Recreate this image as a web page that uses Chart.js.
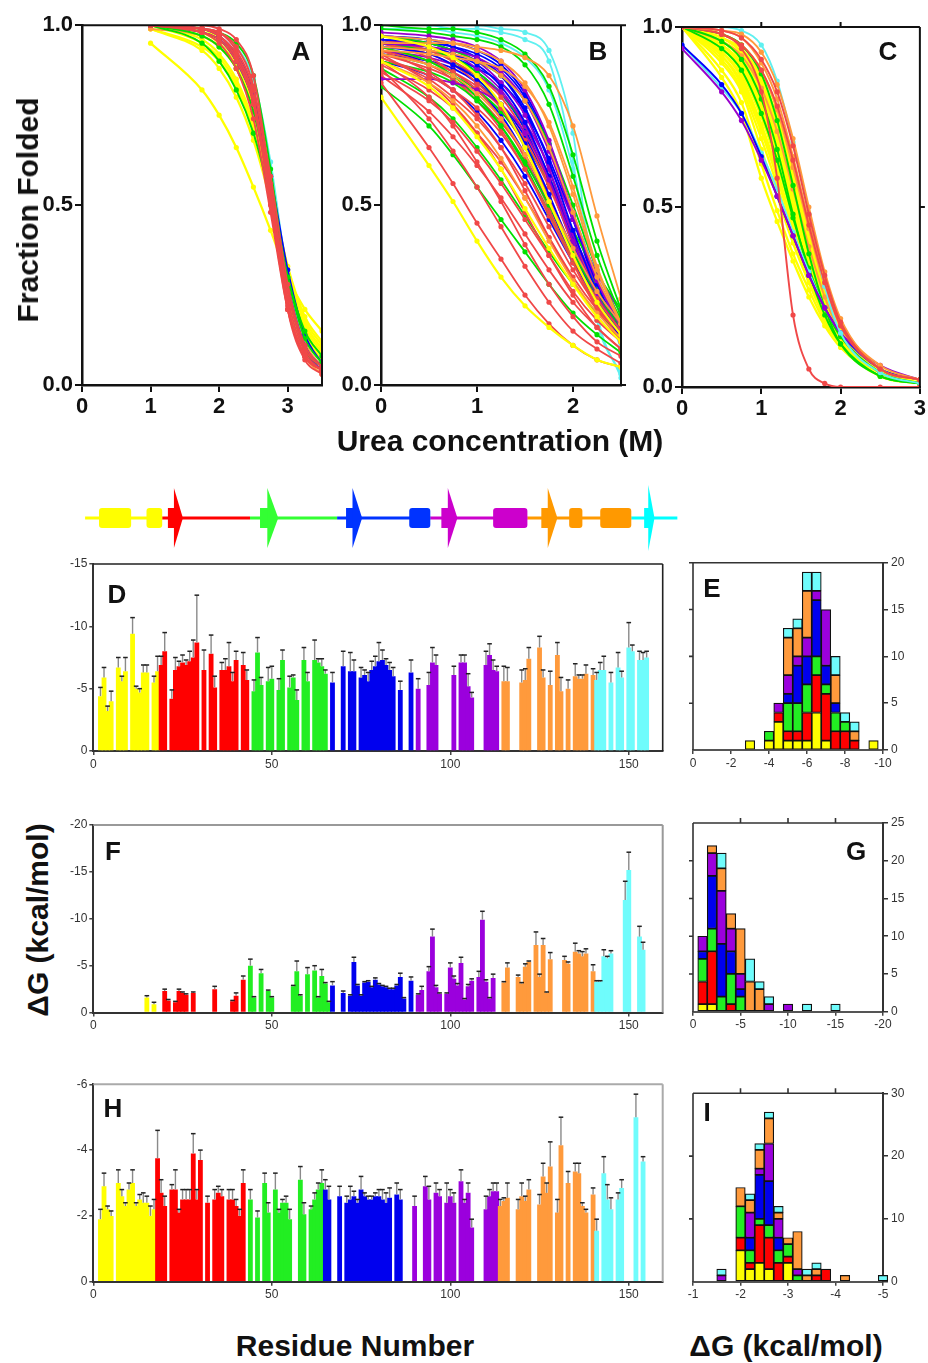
<!DOCTYPE html>
<html>
<head>
<meta charset="utf-8">
<script src="https://cdn.jsdelivr.net/npm/chart.js@4.4.1/dist/chart.umd.min.js"></script>
<style>
body { margin: 0; background: #fff; width: 928px; height: 1363px; position: relative; overflow: hidden; font-family: Arial, "Liberation Sans", sans-serif; }
canvas { position: absolute; }
.lbl { position: absolute; font-weight: bold; font-size: 30px; line-height: 1; color: #111; white-space: nowrap; transform: translate(-50%, -50%); }
.vert { transform: translate(-50%, -50%) rotate(-90deg); }
.pl { position: absolute; font-weight: bold; font-size: 26px; line-height: 1; color: #111; transform: translate(-50%, -50%); }
</style>
</head>
<body>
<canvas id="cA" width="330" height="425" style="left:0;top:10px"></canvas>
<canvas id="cB" width="300" height="425" style="left:330px;top:10px"></canvas>
<canvas id="cC" width="298" height="427" style="left:630px;top:10px"></canvas>
<canvas id="cS" width="640" height="90" style="left:60px;top:470px"></canvas>
<canvas id="cD" width="610" height="232" style="left:60px;top:548px"></canvas>
<canvas id="cE" width="258" height="232" style="left:670px;top:548px"></canvas>
<canvas id="cF" width="610" height="232" style="left:60px;top:808px"></canvas>
<canvas id="cG" width="258" height="232" style="left:670px;top:808px"></canvas>
<canvas id="cH" width="610" height="240" style="left:60px;top:1068px"></canvas>
<canvas id="cI" width="258" height="232" style="left:670px;top:1078px"></canvas>

<div class="lbl vert" style="left:28px;top:210px">Fraction Folded</div>
<div class="lbl" style="left:500px;top:441px">Urea concentration (M)</div>
<div class="lbl vert" style="left:38px;top:920px">ΔG (kcal/mol)</div>
<div class="lbl" style="left:355px;top:1346px">Residue Number</div>
<div class="lbl" style="left:786px;top:1346px">ΔG (kcal/mol)</div>

<div class="pl" style="left:301px;top:51px">A</div>
<div class="pl" style="left:598px;top:51px">B</div>
<div class="pl" style="left:888px;top:51px">C</div>
<div class="pl" style="left:117px;top:594px">D</div>
<div class="pl" style="left:712px;top:588px">E</div>
<div class="pl" style="left:113px;top:851px">F</div>
<div class="pl" style="left:856px;top:851px">G</div>
<div class="pl" style="left:113px;top:1108px">H</div>
<div class="pl" style="left:707px;top:1112px">I</div>

<script>
// ---- urea melts: fraction folded at each measured urea concentration ----
var ureaA = [1, 1.75, 2, 2.25, 2.5, 2.75, 3, 3.25, 3.5];
var colsA = ['r','r','r','r','r','r','r','g','g','g','b','b','p','c','o','o','y','y','y','y','y','y','y','y','y'];
var foldA = [
  [1.00,0.99,0.97,0.92,0.80,0.52,0.22,0.08,0.04],
  [1.00,0.99,0.98,0.94,0.83,0.55,0.24,0.09,0.04],
  [1.00,0.98,0.96,0.90,0.78,0.50,0.21,0.08,0.04],
  [1.00,0.99,0.97,0.91,0.79,0.54,0.26,0.10,0.05],
  [1.00,0.98,0.95,0.88,0.74,0.48,0.21,0.08,0.04],
  [1.00,0.99,0.98,0.93,0.82,0.58,0.28,0.11,0.05],
  [1.00,1.00,0.99,0.96,0.86,0.56,0.21,0.07,0.03],
  [1.00,0.99,0.98,0.95,0.86,0.60,0.27,0.10,0.05],
  [1.00,0.95,0.90,0.82,0.70,0.52,0.30,0.15,0.08],
  [1.00,0.97,0.94,0.88,0.76,0.55,0.30,0.13,0.06],
  [1.00,0.99,0.97,0.92,0.81,0.57,0.28,0.11,0.05],
  [1.00,0.98,0.96,0.90,0.79,0.58,0.32,0.14,0.06],
  [1.00,0.99,0.97,0.91,0.80,0.56,0.27,0.10,0.04],
  [1.00,0.99,0.98,0.94,0.85,0.62,0.30,0.11,0.05],
  [1.00,0.99,0.97,0.91,0.79,0.53,0.23,0.08,0.03],
  [0.99,0.97,0.94,0.88,0.76,0.54,0.29,0.12,0.05],
  [0.95,0.82,0.75,0.66,0.55,0.43,0.30,0.21,0.15],
  [0.99,0.93,0.88,0.80,0.68,0.51,0.30,0.17,0.10],
  [1.00,0.96,0.92,0.85,0.73,0.54,0.30,0.16,0.09],
  [1.00,0.97,0.94,0.88,0.77,0.56,0.30,0.15,0.08],
  [1.00,0.98,0.95,0.89,0.78,0.57,0.32,0.17,0.10],
  [1.00,0.95,0.91,0.84,0.72,0.54,0.33,0.19,0.12],
  [1.00,0.98,0.96,0.91,0.80,0.57,0.29,0.14,0.07],
  [0.99,0.94,0.90,0.83,0.71,0.52,0.31,0.18,0.11],
  [1.00,0.99,0.96,0.90,0.77,0.52,0.25,0.11,0.05]
];

var ureaB = [0, 0.5, 0.75, 1, 1.25, 1.5, 1.75, 2, 2.25, 2.5];
var colsB = ['y','y','y','o','o','o','o','o','o','r','r','r','r','r','r','r','r','p','p','p','g','g','g','g','g','b','b','b','b','r','r','r','r','r','r','r','r','p','p','p','g','g','g','g','g','b','b','b','b','b','b','b','c','c','c'];
var foldB = [
  [0.80,0.61,0.51,0.40,0.30,0.22,0.16,0.11,0.07,0.05],
  [0.97,0.94,0.91,0.86,0.78,0.66,0.51,0.36,0.23,0.14],
  [0.90,0.83,0.77,0.69,0.60,0.49,0.38,0.28,0.19,0.12],
  [0.95,0.95,0.95,0.94,0.93,0.91,0.86,0.72,0.47,0.24],
  [0.93,0.92,0.91,0.90,0.88,0.83,0.73,0.55,0.33,0.17],
  [0.90,0.84,0.79,0.72,0.63,0.52,0.40,0.29,0.20,0.13],
  [0.92,0.89,0.86,0.81,0.74,0.64,0.51,0.38,0.26,0.17],
  [0.94,0.93,0.92,0.90,0.86,0.79,0.66,0.48,0.30,0.17],
  [0.97,0.96,0.95,0.93,0.90,0.84,0.72,0.53,0.32,0.17],
  [0.84,0.66,0.56,0.45,0.35,0.25,0.17,0.11,0.07,0.05],
  [0.88,0.74,0.65,0.55,0.44,0.33,0.23,0.15,0.10,0.06],
  [0.90,0.80,0.72,0.62,0.51,0.39,0.28,0.19,0.12,0.08],
  [0.92,0.84,0.78,0.70,0.60,0.48,0.36,0.25,0.16,0.10],
  [0.93,0.87,0.82,0.75,0.66,0.54,0.41,0.29,0.19,0.12],
  [0.91,0.85,0.80,0.74,0.66,0.56,0.44,0.32,0.22,0.14],
  [0.91,0.86,0.82,0.77,0.70,0.60,0.48,0.35,0.24,0.15],
  [0.87,0.79,0.73,0.65,0.56,0.46,0.36,0.26,0.18,0.12],
  [0.98,0.97,0.96,0.94,0.90,0.82,0.68,0.48,0.30,0.17],
  [0.85,0.85,0.84,0.82,0.78,0.70,0.57,0.40,0.25,0.15],
  [0.95,0.94,0.93,0.91,0.87,0.79,0.65,0.47,0.29,0.16],
  [0.83,0.72,0.64,0.55,0.46,0.37,0.28,0.20,0.14,0.09],
  [0.97,0.95,0.93,0.90,0.86,0.79,0.67,0.50,0.32,0.18],
  [0.99,0.98,0.97,0.96,0.94,0.89,0.78,0.58,0.36,0.19],
  [0.94,0.90,0.86,0.80,0.72,0.61,0.48,0.35,0.24,0.15],
  [0.90,0.87,0.84,0.79,0.72,0.62,0.50,0.37,0.25,0.16],
  [0.95,0.94,0.92,0.89,0.83,0.73,0.58,0.40,0.24,0.13],
  [0.96,0.95,0.93,0.91,0.86,0.77,0.62,0.43,0.26,0.14],
  [0.94,0.92,0.89,0.85,0.78,0.67,0.53,0.37,0.24,0.14],
  [0.97,0.96,0.95,0.93,0.89,0.81,0.67,0.47,0.28,0.15],
  [0.95,0.91,0.87,0.82,0.74,0.63,0.49,0.34,0.21,0.12],
  [0.89,0.82,0.77,0.70,0.62,0.52,0.41,0.30,0.21,0.14],
  [0.94,0.90,0.87,0.83,0.77,0.68,0.55,0.40,0.26,0.15],
  [0.86,0.76,0.69,0.61,0.52,0.42,0.32,0.23,0.16,0.10],
  [0.96,0.93,0.90,0.86,0.80,0.70,0.56,0.39,0.24,0.13],
  [0.92,0.88,0.85,0.80,0.73,0.64,0.52,0.38,0.26,0.16],
  [0.95,0.92,0.89,0.84,0.77,0.66,0.52,0.37,0.24,0.14],
  [0.93,0.89,0.85,0.79,0.71,0.60,0.47,0.34,0.22,0.13],
  [0.96,0.94,0.92,0.88,0.82,0.72,0.58,0.42,0.28,0.18],
  [0.93,0.91,0.89,0.86,0.81,0.73,0.61,0.46,0.31,0.20],
  [0.97,0.95,0.93,0.90,0.84,0.75,0.60,0.42,0.26,0.15],
  [0.92,0.89,0.86,0.82,0.76,0.67,0.56,0.43,0.31,0.21],
  [0.96,0.93,0.90,0.85,0.78,0.67,0.52,0.36,0.23,0.14],
  [1.00,0.99,0.99,0.98,0.96,0.92,0.83,0.64,0.40,0.21],
  [0.88,0.80,0.74,0.66,0.57,0.47,0.37,0.28,0.20,0.14],
  [0.95,0.93,0.91,0.87,0.81,0.72,0.58,0.42,0.27,0.16],
  [0.93,0.90,0.87,0.82,0.75,0.64,0.50,0.35,0.23,0.14],
  [0.96,0.95,0.94,0.92,0.88,0.80,0.66,0.46,0.27,0.14],
  [0.90,0.86,0.82,0.76,0.68,0.58,0.46,0.34,0.23,0.15],
  [0.95,0.93,0.91,0.87,0.81,0.71,0.56,0.39,0.25,0.15],
  [0.94,0.93,0.91,0.88,0.84,0.76,0.63,0.46,0.29,0.16],
  [0.92,0.90,0.88,0.84,0.78,0.69,0.56,0.41,0.27,0.16],
  [0.97,0.96,0.94,0.91,0.86,0.76,0.60,0.41,0.25,0.13],
  [1.00,1.00,1.00,1.00,0.99,0.98,0.93,0.70,0.20,0.02],
  [1.00,1.00,0.99,0.99,0.98,0.96,0.90,0.62,0.18,0.03],
  [0.99,0.99,0.98,0.97,0.95,0.91,0.82,0.60,0.30,0.10]
];

var ureaC = [0, 0.5, 0.75, 1, 1.2, 1.4, 1.6, 1.8, 2, 2.5, 3];
var colsC = ['r','o','r','o','r','c','p','b','c','g','g','g','o','o','y','y','y','y','y','y','y','y','y','y','y','y','y','y','y','y','y','y','y','y','y'];
var foldC = [
  [1.00,0.99,0.97,0.91,0.82,0.67,0.48,0.31,0.18,0.05,0.02],
  [1.00,0.99,0.98,0.93,0.84,0.69,0.50,0.32,0.19,0.05,0.02],
  [1.00,0.98,0.95,0.88,0.78,0.63,0.45,0.29,0.17,0.05,0.02],
  [1.00,0.99,0.97,0.90,0.80,0.64,0.46,0.30,0.18,0.06,0.02],
  [1.00,0.98,0.94,0.82,0.58,0.20,0.05,0.01,0.00,0.00,0.00],
  [1.00,1.00,0.99,0.95,0.85,0.68,0.48,0.28,0.15,0.04,0.01],
  [0.94,0.82,0.74,0.63,0.53,0.42,0.31,0.22,0.15,0.06,0.02],
  [0.95,0.84,0.76,0.64,0.53,0.42,0.31,0.22,0.15,0.05,0.02],
  [0.95,0.83,0.76,0.65,0.55,0.43,0.32,0.22,0.15,0.05,0.02],
  [1.00,0.96,0.91,0.80,0.66,0.48,0.32,0.20,0.12,0.03,0.01],
  [1.00,0.98,0.95,0.87,0.74,0.56,0.37,0.22,0.12,0.03,0.01],
  [1.00,0.94,0.88,0.76,0.63,0.47,0.33,0.22,0.14,0.04,0.01],
  [1.00,0.96,0.92,0.83,0.71,0.55,0.39,0.25,0.15,0.04,0.01],
  [1.00,0.98,0.95,0.88,0.77,0.61,0.44,0.28,0.17,0.05,0.02],
  [1.00,0.86,0.76,0.58,0.46,0.35,0.25,0.17,0.11,0.03,0.01],
  [1.00,0.88,0.79,0.62,0.49,0.37,0.27,0.18,0.12,0.04,0.01],
  [1.00,0.90,0.82,0.66,0.53,0.40,0.29,0.19,0.12,0.04,0.01],
  [1.00,0.93,0.86,0.73,0.60,0.45,0.32,0.21,0.13,0.04,0.01],
  [1.00,0.95,0.89,0.78,0.65,0.50,0.35,0.23,0.14,0.04,0.01],
  [1.00,0.96,0.92,0.82,0.70,0.54,0.38,0.25,0.15,0.04,0.01],
  [1.00,0.92,0.84,0.71,0.58,0.44,0.31,0.21,0.14,0.05,0.02],
  [1.00,0.97,0.93,0.84,0.72,0.56,0.40,0.26,0.16,0.04,0.01],
  [1.00,0.94,0.88,0.76,0.63,0.48,0.34,0.22,0.14,0.04,0.01],
  [1.00,0.95,0.90,0.80,0.68,0.53,0.38,0.25,0.15,0.04,0.01],
  [1.00,0.91,0.83,0.69,0.56,0.42,0.30,0.20,0.13,0.04,0.02],
  [1.00,0.97,0.94,0.86,0.75,0.59,0.42,0.27,0.16,0.04,0.01],
  [1.00,0.93,0.87,0.75,0.62,0.47,0.34,0.23,0.15,0.05,0.02],
  [1.00,0.96,0.91,0.81,0.69,0.52,0.36,0.23,0.14,0.03,0.01],
  [1.00,0.94,0.89,0.79,0.66,0.51,0.37,0.25,0.16,0.05,0.02],
  [1.00,0.95,0.90,0.79,0.66,0.50,0.35,0.23,0.14,0.04,0.01],
  [1.00,0.97,0.93,0.85,0.73,0.57,0.41,0.27,0.17,0.05,0.02],
  [1.00,0.92,0.85,0.72,0.59,0.45,0.32,0.21,0.13,0.04,0.01],
  [1.00,0.96,0.92,0.83,0.71,0.55,0.39,0.26,0.16,0.05,0.02],
  [1.00,0.94,0.88,0.77,0.64,0.49,0.35,0.23,0.15,0.05,0.02],
  [1.00,0.98,0.95,0.88,0.77,0.61,0.44,0.29,0.18,0.05,0.02]
];

// ---- per-residue stability (kcal/mol) with errors ----
var resD = [2,3,4,5,7,8,9,11,12,13,14,15,17,18,19,20,22,23,24,25,26,27,28,29,31,33,34,36,37,38,39,40,42,43,45,46,47,49,50,52,53,55,56,57,59,60,62,63,64,65,67,70,72,73,75,76,77,78,79,80,81,82,83,84,86,89,91,94,95,96,101,103,104,105,106,110,111,112,113,115,116,120,121,122,125,126,128,130,131,133,135,136,137,138,140,141,142,143,145,147,148,150,151,153,154,155];
var dgD = [-4.4,-5.9,-3.2,-4.0,-6.7,-5.6,-6.4,-9.4,-5.0,-4.7,-6.3,-6.3,-5.5,-6.4,-6.9,-8.0,-4.2,-6.5,-6.8,-7.1,-6.9,-7.2,-7.5,-8.7,-6.5,-7.8,-5.1,-6.5,-6.5,-6.8,-5.6,-7.3,-6.9,-5.7,-4.8,-7.9,-5.3,-5.6,-5.8,-4.9,-7.3,-5.1,-5.9,-4.1,-7.3,-5.6,-7.3,-7.1,-6.8,-6.2,-5.5,-6.8,-6.4,-6.4,-5.9,-6.1,-5.6,-6.5,-6.8,-7.2,-7.3,-6.9,-6.5,-6.0,-4.9,-6.3,-5.0,-5.3,-7.1,-6.9,-6.1,-7.1,-7.1,-5.2,-4.3,-6.9,-7.7,-6.5,-6.4,-5.6,-5.6,-5.5,-5.7,-7.4,-8.3,-5.9,-5.3,-7.7,-4.8,-5.0,-6.0,-5.8,-5.8,-6.2,-6.1,-5.7,-6.5,-6.5,-5.5,-6.7,-5.9,-8.3,-8.0,-7.3,-7.3,-7.5];
var errD = [0.7,0.8,0.4,0.8,0.8,0.4,1.1,1.3,0.2,0.3,0.6,0.6,0.5,1.2,0.7,1.5,0.7,1.0,0.4,0.6,0.4,0.8,1.4,3.8,1.6,1.5,0.9,0.6,0.9,1.9,0.7,0.7,1.0,0.8,0.9,1.2,0.6,1.1,1.0,0.9,0.8,0.9,0.2,0.8,1.0,0.7,1.6,0.3,0.6,0.3,0.8,1.2,1.5,0.9,0.8,0.4,0.7,0.7,0.8,1.5,0.8,0.5,0.6,0.7,0.7,1.0,0.8,1.0,1.2,0.8,0.7,0.6,0.6,1.0,0.4,1.1,0.9,0.8,0.4,1.2,1.1,1.0,0.9,0.9,0.9,0.6,1.1,1.0,1.1,0.7,1.0,0.3,0.3,0.7,0.5,0.6,0.6,1.1,0.8,1.2,0.5,2.0,0.5,0.7,0.6,0.5];
var segD = [19, 44, 66, 90, 114, 141];

var resF = [15,17,20,21,23,24,25,26,28,34,39,40,42,44,45,47,49,50,56,57,58,60,62,63,64,65,66,67,70,72,73,74,75,76,77,78,79,80,81,82,83,84,85,86,87,89,91,92,94,95,96,97,99,100,101,102,103,104,105,106,108,109,110,111,112,115,116,119,120,121,122,124,125,126,127,128,132,133,135,136,137,138,140,141,142,143,144,145,149,150,153,154];
var dgF = [-1.6,-0.9,-2.3,-1.3,-1.1,-2.3,-2.1,-1.9,-2.1,-2.5,-1.2,-1.8,-3.5,-5.0,-1.6,-4.2,-2.3,-1.6,-2.8,-4.4,-1.8,-4.1,-4.5,-1.6,-3.9,-3.1,-1.1,-2.9,-2.1,-1.8,-5.4,-2.9,-1.8,-3.2,-3.3,-2.7,-3.5,-3.0,-2.8,-2.7,-2.5,-2.5,-2.9,-3.8,-1.5,-3.4,-1.9,-2.4,-4.4,-8.1,-2.7,-2.0,-2.0,-4.8,-3.6,-2.9,-5.3,-1.4,-2.8,-3.4,-3.8,-9.9,-3.3,-1.5,-3.7,-3.2,-4.8,-3.8,-3.1,-4.9,-5.4,-7.2,-3.8,-7.2,-2.1,-5.7,-5.6,-5.2,-6.5,-6.3,-6.0,-6.3,-4.4,-3.3,-3.3,-6.0,-5.8,-6.3,-12.0,-15.2,-8.1,-6.7];
var errF = [0.2,0.2,0.2,0.1,0.1,0.2,0.1,0.1,0.1,0.3,0.1,0.3,0.4,0.7,0.1,0.4,0.1,0.1,0.1,1.1,0.1,0.7,0.5,0.1,0.7,0.1,0.1,0.4,0.2,0.1,0.5,0.1,0.1,0.1,0.1,0.1,0.2,0.1,0.1,0.1,0.1,0.1,0.1,0.4,0.1,0.4,0.1,0.4,0.5,0.8,0.2,0.1,0.1,0.5,0.3,0.2,0.6,0.1,0.2,0.2,0.6,0.9,0.2,0.1,0.4,0.1,0.5,0.2,0.1,0.3,0.1,1.4,0.3,0.7,0.1,0.7,0.4,0.2,0.9,0.3,0.5,0.5,0.7,0.1,0.1,0.7,0.2,0.3,2.0,1.9,1.1,0.8];
var segF = [19, 44, 67, 90, 114, 141];

var resH = [2,3,4,5,7,8,9,10,11,12,13,14,15,16,17,18,19,20,22,23,24,25,26,27,28,29,30,32,34,35,36,38,39,40,41,42,44,46,48,49,51,52,53,54,55,58,59,61,62,63,64,65,66,69,71,72,73,74,75,76,77,78,79,80,81,82,83,85,86,90,93,94,96,97,99,100,101,103,104,105,106,110,111,112,113,114,115,116,119,120,121,122,125,126,127,128,130,131,133,135,136,137,138,140,141,143,144,145,147,148,152,154];
var dgH = [-1.9,-2.9,-2.2,-2.0,-3.0,-2.6,-2.3,-2.8,-3.0,-2.3,-2.5,-2.4,-2.4,-2.0,-2.2,-3.75,-2.7,-2.3,-2.8,-2.8,-2.1,-2.5,-2.5,-2.5,-3.9,-2.5,-3.7,-2.4,-2.5,-2.7,-2.6,-2.5,-2.5,-2.3,-2.0,-3.0,-2.5,-1.95,-3.0,-2.1,-2.8,-2.1,-2.4,-2.4,-1.9,-3.1,-2.05,-2.2,-2.5,-2.8,-3.0,-2.8,-2.5,-2.6,-2.4,-2.5,-2.6,-2.4,-2.8,-2.6,-2.5,-2.5,-2.6,-2.6,-2.5,-2.4,-2.55,-2.65,-2.5,-2.3,-2.9,-2.5,-2.7,-2.6,-2.4,-2.6,-2.4,-3.05,-2.4,-2.7,-1.65,-2.2,-2.6,-2.75,-2.75,-2.3,-2.45,-2.55,-2.2,-2.6,-2.45,-2.8,-2.35,-3.2,-2.7,-3.5,-2.1,-4.15,-3.0,-3.35,-3.3,-2.3,-2.1,-2.65,-1.55,-3.3,-2.5,-2.2,-2.5,-2.85,-5.0,-3.65];
var errH = [0.3,0.4,0.1,0.15,0.4,0.2,0.1,0.2,0.4,0.1,0.15,0.3,0.2,0.3,0.3,0.85,0.4,0.3,0.15,0.6,0.1,0.3,0.3,0.3,0.6,0.3,0.3,0.2,0.3,0.2,0.2,0.3,0.3,0.2,0.2,0.4,0.3,0.2,0.3,0.3,0.5,0.1,0.1,0.2,0.3,0.4,0.35,0.1,0.2,0.2,0.4,0.3,0.4,0.3,0.2,0.4,0.15,0.1,0.4,0.1,0.1,0.1,0.1,0.2,0.3,0.3,0.3,0.35,0.3,0.3,0.3,0.4,0.3,0.2,0.6,0.2,0.3,0.35,0.1,0.3,0.25,0.4,0.2,0.25,0.25,0.2,0.1,0.45,0.3,0.4,0.15,0.3,0.3,0.4,0.3,0.75,0.4,0.85,0.35,0.25,0.3,0.1,0.1,0.2,0.35,0.5,0.45,0.35,0.2,0.25,0.7,0.15];
var segH = [18, 44, 65, 89, 114, 141];

// ---- histograms of the same stabilities (counts per bin, by segment) ----
var binE = [-3,-3.5,-4,-4.5,-5,-5.5,-6,-6.5,-7,-7.5,-8,-8.5,-9,-9.5];
var histE = {
  y: [1,0,1,3,1,1,1,4,1,0,0,0,0,1],
  r: [0,0,0,1,1,1,3,4,5,2,2,1,0,0],
  g: [0,0,1,0,3,3,3,2,1,2,1,0,0,0],
  b: [0,0,0,0,1,4,3,6,2,1,0,0,0,0],
  p: [0,0,0,1,2,1,2,1,6,0,0,0,0,0],
  o: [0,0,0,0,4,3,5,0,0,3,0,1,0,0],
  c: [0,0,0,0,1,1,2,2,0,2,1,1,0,0]
};
var binG = [-1,-2,-3,-4,-5,-6,-7,-8,-9,-10,-11,-12,-13,-14,-15];
var histG = {
  y: [1,1,0,0,0,0,0,0,0,0,0,0,0,0,0],
  r: [3,7,0,1,0,0,0,0,0,0,0,0,0,0,0],
  g: [3,3,2,4,2,0,0,0,0,0,0,0,0,0,0],
  b: [1,7,7,3,1,0,0,0,0,0,0,0,0,0,0],
  p: [2,3,7,3,2,0,0,1,0,1,0,0,0,0,0],
  o: [0,1,3,2,6,4,3,0,0,0,0,0,0,0,0],
  c: [0,0,2,0,0,3,1,1,0,0,0,1,0,0,1]
};
var binI = [-1.6,-1.8,-2.0,-2.2,-2.4,-2.6,-2.8,-3.0,-3.2,-3.4,-3.6,-3.8,-4.0,-4.2,-4.4,-4.6,-4.8,-5.0];
var histI = {
  y: [0,0,5,2,3,2,0,3,0,0,0,0,0,0,0,0,0,0],
  r: [0,0,2,1,6,5,3,1,0,0,1,2,0,0,0,0,0,0],
  g: [0,0,5,2,1,2,2,2,1,0,0,0,0,0,0,0,0,0],
  b: [0,0,0,2,7,7,2,0,0,0,0,0,0,0,0,0,0,0],
  p: [1,0,0,4,1,6,3,0,1,0,0,0,0,0,0,0,0,0],
  o: [0,0,3,2,3,4,1,1,6,1,1,0,0,1,0,0,0,0],
  c: [1,0,0,1,1,1,1,0,0,1,1,0,0,0,0,0,0,1]
};

// ---- secondary structure along the sequence (residue ranges) ----
var ssLines = [[-2.3,19.3,'y'],[19.3,43.9,'r'],[43.9,68.3,'g'],[68.3,94.4,'b'],[94.4,121.6,'m'],[121.6,150.7,'o'],[150.7,163.6,'c']];
var ssHelix = [[1.6,10.6,'y'],[14.9,19.3,'y'],[88.5,94.4,'b'],[112,121.6,'m'],[133.3,137,'o'],[142,150.7,'o']];
var ssStrand = [[20.9,25.1,'r'],[46.7,51.8,'g'],[70.8,75.3,'b'],[97.5,102,'m'],[125.5,130,'o'],[154.3,157.2,'c']];

var FONT = 'Arial, "Liberation Sans", sans-serif';
Chart.defaults.font.family = FONT;

var segOrder = ['y','r','g','b','p','o','c'];
var lineCol = {y:'#ffff00', r:'#f04848', g:'#00e000', b:'#0000ff', p:'#9900cc', o:'#ff9a3c', c:'#5ff0f0'};
var barCol  = {y:'#ffff00', r:'#ff0000', g:'#22ee22', b:'#0000ee', p:'#9b00dd', o:'#ff9a3c', c:'#6ffcfc'};
var ssCol   = {y:'#ffff00', r:'#ff0000', g:'#33ff33', b:'#0033ff', m:'#cc00cc', o:'#ff9900', c:'#00ffff'};

// box sides and outward ticks that the axes themselves don't draw
var frames = {
  cA: {color:'#111', width:2, sides:['top','right'], top:[], right:[], left:[]},
  cB: {color:'#111', width:2, sides:['top','right'], top:[1,2], right:[0,0.5,1], left:[]},
  cC: {color:'#111', width:2, sides:['top','right'], top:[1,2], right:[0.5], left:[]},
  cD: {color:'#222', width:1.6, sides:['top','right'], top:[], right:[], left:[]},
  cF: {color:'#999', width:2, sides:['top','right'], top:[], right:[], left:[]},
  cH: {color:'#aaa', width:2, sides:['top','right'], top:[], right:[], left:[]},
  cE: {color:'#333', width:1.6, sides:['top','left'], top:[], right:[], left:[5,10,15,20]},
  cG: {color:'#333', width:1.6, sides:['top','left'], top:[-5,-10,-15], right:[], left:[5,10,15,20]},
  cI: {color:'#333', width:1.6, sides:['top','left'], top:[-2,-3,-4], right:[], left:[10,20]}
};

var framePlugin = {
  id: 'frame',
  afterDraw: function(chart) {
    var f = frames[chart.canvas.id];
    if (!f) return;
    var c = chart.ctx, a = chart.chartArea, xs = chart.scales.x, ys = chart.scales.y;
    c.save();
    c.strokeStyle = f.color;
    c.lineWidth = f.width;
    c.beginPath();
    if (f.sides.indexOf('top') >= 0) { c.moveTo(a.left, a.top); c.lineTo(a.right, a.top); }
    if (f.sides.indexOf('right') >= 0) { c.moveTo(a.right, a.top); c.lineTo(a.right, a.bottom); }
    if (f.sides.indexOf('left') >= 0) { c.moveTo(a.left, a.top); c.lineTo(a.left, a.bottom); }
    f.top.forEach(function(v) { var p = xs.getPixelForValue(v); c.moveTo(p, a.top); c.lineTo(p, a.top - 5); });
    f.right.forEach(function(v) { var p = ys.getPixelForValue(v); c.moveTo(a.right, p); c.lineTo(a.right + 5, p); });
    f.left.forEach(function(v) { var p = ys.getPixelForValue(v); c.moveTo(a.left, p); c.lineTo(a.left - 4, p); });
    c.stroke();
    c.restore();
  }
};

// error bars: grey stem from the bar end, dark cap
var errPlugin = {
  id: 'errbars',
  afterDatasetsDraw: function(chart) {
    var ds = chart.data.datasets[0];
    var c = chart.ctx, xs = chart.scales.x, ys = chart.scales.y;
    c.save();
    ds.data.forEach(function(pt, i) {
      var px = xs.getPixelForValue(pt.x);
      var y0 = ys.getPixelForValue(pt.y);
      var y1 = ys.getPixelForValue(pt.y - ds.errors[i]);
      c.strokeStyle = '#8a8a8a'; c.lineWidth = 1.4;
      c.beginPath(); c.moveTo(px, y0); c.lineTo(px, y1); c.stroke();
      c.strokeStyle = '#222'; c.lineWidth = 1.5;
      c.beginPath(); c.moveTo(px - 2.3, y1); c.lineTo(px + 2.3, y1); c.stroke();
    });
    c.restore();
  }
};

function fixedTicks(list) {
  return function(s) { s.ticks = list.map(function(v) { return {value: v}; }); };
}

function foldChart(id, xs, rows, cols, xmax, xticks, yW, padTop, padRight, lw) {
  var sets = rows.map(function(row, i) {
    var col = lineCol[cols[i]];
    return {
      data: row.map(function(v, j) { return {x: xs[j], y: v}; }),
      showLine: true, borderColor: col, backgroundColor: col,
      borderWidth: cols[i] === 'y' ? lw + 0.4 : lw,
      pointRadius: 2.6, pointBorderWidth: 0, cubicInterpolationMode: 'monotone'
    };
  });
  new Chart(document.getElementById(id), {
    type: 'scatter',
    data: {datasets: sets},
    options: {
      responsive: false, animation: false, events: [],
      layout: {padding: {top: padTop, right: padRight, left: 0, bottom: 0}},
      plugins: {legend: {display: false}, tooltip: {enabled: false}},
      scales: {
        x: {type: 'linear', min: 0, max: xmax,
            afterBuildTicks: fixedTicks(xticks),
            afterFit: function(s) { s.height = 50; },
            grid: {drawOnChartArea: false, tickLength: 7, color: '#111', lineWidth: 2},
            border: {color: '#111', width: 2.5},
            ticks: {color: '#111', padding: 2, maxRotation: 0, font: {size: 22, weight: 'bold'}}},
        y: {min: 0, max: 1,
            afterBuildTicks: fixedTicks([0, 0.5, 1]),
            afterFit: function(s) { s.width = yW; },
            grid: {drawOnChartArea: false, tickLength: 7, color: '#111', lineWidth: 2},
            border: {color: '#111', width: 2.5},
            ticks: {color: '#111', padding: 2, font: {size: 22, weight: 'bold'},
                    callback: function(v) { return v.toFixed(1); }}}
      }
    },
    plugins: [framePlugin]
  });
}

function segColour(r, seg) {
  var k = 0;
  while (k < seg.length && r >= seg[k]) k++;
  return barCol[segOrder[k]];
}

function residueChart(id, res, dg, err, seg, ymin, ystep, padTop, xH) {
  new Chart(document.getElementById(id), {
    type: 'bar',
    data: {datasets: [{
      data: res.map(function(r, i) { return {x: r, y: dg[i]}; }),
      errors: err,
      backgroundColor: res.map(function(r) { return segColour(r, seg); }),
      borderWidth: 0, barPercentage: 1.35, categoryPercentage: 1
    }]},
    options: {
      responsive: false, animation: false, events: [],
      layout: {padding: {top: padTop, right: 7.3, left: 0, bottom: 0}},
      plugins: {legend: {display: false}, tooltip: {enabled: false}},
      scales: {
        x: {type: 'linear', min: 0, max: 159.5, offset: false,
            afterBuildTicks: fixedTicks([0, 50, 100, 150]),
            afterFit: function(s) { s.height = xH; },
            grid: {offset: false, drawOnChartArea: false, tickLength: 4, color: '#444', lineWidth: 1.5},
            border: {color: '#333', width: 2},
            ticks: {color: '#333', padding: 2, maxRotation: 0, font: {size: 12}}},
        y: {min: ymin, max: 0, reverse: true,
            ticks: {stepSize: ystep, color: '#333', padding: 2, font: {size: 12}},
            afterFit: function(s) { s.width = 33.3; },
            grid: {drawOnChartArea: false, tickLength: 4, color: '#444', lineWidth: 1.5},
            border: {color: '#333', width: 2}}
      }
    },
    plugins: [errPlugin, framePlugin]
  });
}

function histChart(id, bins, hist, xmin, xmax, xticks, ymax, yticks, padTop, xH) {
  var sets = segOrder.map(function(k) {
    var pts = [];
    bins.forEach(function(b, i) { if (hist[k][i] > 0) pts.push({x: b, y: hist[k][i]}); });
    return {data: pts, backgroundColor: barCol[k], borderColor: '#111', borderWidth: 1.2,
            borderSkipped: false, barPercentage: 1, categoryPercentage: 1, clip: false};
  });
  new Chart(document.getElementById(id), {
    type: 'bar',
    data: {datasets: sets},
    options: {
      responsive: false, animation: false, events: [],
      layout: {padding: {top: padTop, left: 23, right: 0, bottom: 0}},
      plugins: {legend: {display: false}, tooltip: {enabled: false}},
      scales: {
        x: {type: 'linear', min: xmin, max: xmax, reverse: true, stacked: true, offset: false,
            afterBuildTicks: fixedTicks(xticks),
            afterFit: function(s) { s.height = xH; },
            grid: {offset: false, drawOnChartArea: false, tickLength: 4, color: '#444', lineWidth: 1.5},
            border: {color: '#555', width: 2},
            ticks: {color: '#333', padding: 2, maxRotation: 0, font: {size: 12}}},
        y: {position: 'right', stacked: true, min: 0, max: ymax,
            afterBuildTicks: fixedTicks(yticks),
            afterFit: function(s) { s.width = 45; },
            grid: {drawOnChartArea: false, tickLength: 5, color: '#333', lineWidth: 1.5},
            border: {color: '#333', width: 2},
            ticks: {color: '#333', padding: 3, font: {size: 12}}}
      }
    },
    plugins: [framePlugin]
  });
}

// secondary structure cartoon drawn on the residue axis
var ssPlugin = {
  id: 'topology',
  afterDraw: function(chart) {
    var c = chart.ctx, xs = chart.scales.x, mid = 48;
    c.save();
    ssLines.forEach(function(s) {
      c.fillStyle = ssCol[s[2]];
      var a = xs.getPixelForValue(s[0]), b = xs.getPixelForValue(s[1]);
      c.fillRect(a, mid - 1.5, b - a, 3);
    });
    ssHelix.forEach(function(s) {
      var a = xs.getPixelForValue(s[0]), b = xs.getPixelForValue(s[1]);
      c.fillStyle = ssCol[s[2]];
      c.beginPath();
      c.roundRect(a, mid - 10, b - a, 20, 3);
      c.fill();
    });
    ssStrand.forEach(function(s) {
      var a = xs.getPixelForValue(s[0]), b = xs.getPixelForValue(s[1]), w = b - a;
      var tall = s[2] === 'c' ? 33 : 30;
      c.fillStyle = ssCol[s[2]];
      c.fillRect(a, mid - 10, w * 0.7, 20);
      c.beginPath();
      c.moveTo(a + w * 0.4, mid - tall);
      c.lineTo(b, mid);
      c.lineTo(a + w * 0.4, mid + tall);
      c.closePath();
      c.fill();
    });
    c.restore();
  }
};

foldChart('cA', ureaA, foldA, colsA, 3.5, [0, 1, 2, 3], 82, 15, 8, 1.9);
foldChart('cB', ureaB, foldB, colsB, 2.5, [0, 1, 2], 51, 15, 9, 1.8);
foldChart('cC', ureaC, foldC, colsC, 3, [0, 1, 2, 3], 52, 17, 6, 1.9);

new Chart(document.getElementById('cS'), {
  type: 'scatter',
  data: {datasets: []},
  options: {
    responsive: false, animation: false, events: [],
    layout: {padding: {left: 33.3, right: 37.3, top: 0, bottom: 0}},
    plugins: {legend: {display: false}, tooltip: {enabled: false}},
    scales: {x: {type: 'linear', display: false, min: 0, max: 159.5},
             y: {display: false, min: 0, max: 1}}
  },
  plugins: [ssPlugin]
});

residueChart('cD', resD, dgD, errD, segD, -15, 5, 16, 29);
residueChart('cF', resF, dgF, errF, segF, -20, 5, 17, 27.4);
residueChart('cH', resH, dgH, errH, segH, -6, 2, 16.3, 26.3);

histChart('cE', binE, histE, -10, 0, [0, -2, -4, -6, -8, -10], 20, [0, 5, 10, 15, 20], 14.7, 30);
histChart('cG', binG, histG, -20, 0, [0, -5, -10, -15, -20], 25, [0, 5, 10, 15, 20, 25], 15, 28.3);
histChart('cI', binI, histI, -5, -1, [-1, -2, -3, -4, -5], 30, [0, 10, 20, 30], 15.3, 28.3);
</script>
</body>
</html>
